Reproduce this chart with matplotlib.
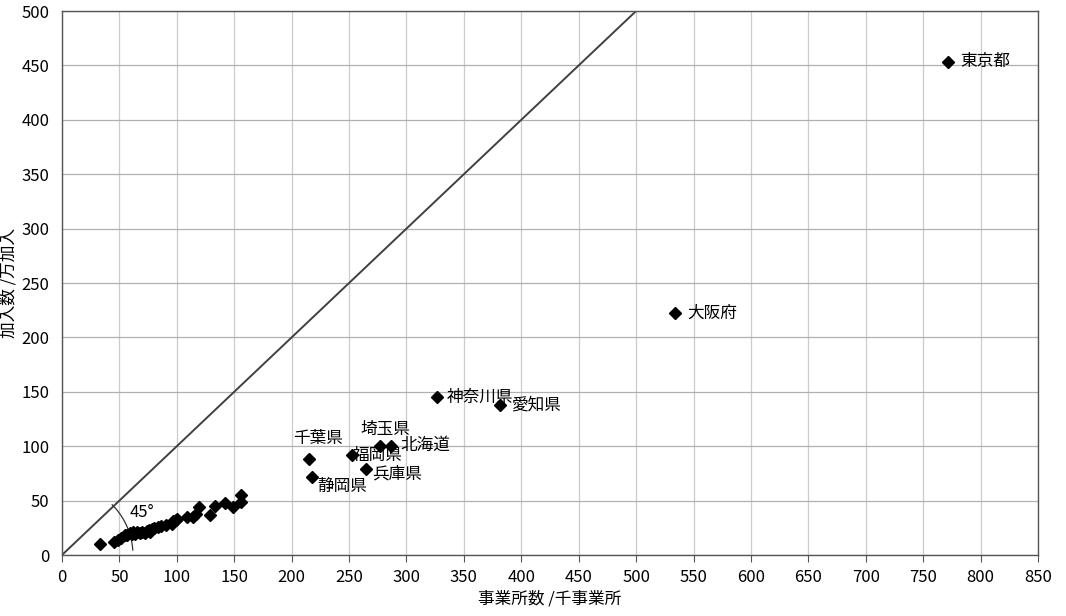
import numpy as np
import matplotlib
matplotlib.use("Agg")
import matplotlib.pyplot as plt

plt.rcParams['font.family'] = ['Noto Sans CJK JP', 'DejaVu Sans']

# Labelled prefectures: establishments (thousand) vs subscribers (10k)
labels = ['東京都', '大阪府', '神奈川県', '愛知県', '埼玉県', '北海道',
          '千葉県', '福岡県', '兵庫県', '静岡県']
lab_x = [771.5, 534, 326.5, 381.5, 277, 286.5, 215, 252.5, 265, 217.5]
lab_y = [453.5, 222.5, 145, 138, 100, 100, 88, 92, 79, 72]
# label offsets in pixels (dx, dy)
lab_off = [(12, 0), (12, 0), (10, 0), (11, 0), (-20, 17), (9, 1),
           (-16, 21), (1, -1), (6, -5), (6, -10)]

# Unlabelled prefectures
oth_x = [33.5, 45.5, 49, 51, 55, 57, 59, 61, 62, 63.5, 65, 67.5, 70, 72, 74,
         75.5, 76.5, 78, 80, 83.5, 86, 91, 95.5, 97, 99, 100, 108.5, 114, 117,
         119, 129, 133, 142, 149, 155.5, 156]
oth_y = [10.5, 11.5, 14, 15.5, 18, 18.5, 20, 19, 21.5, 19.5, 21, 20, 21, 20.5,
         22, 23, 21.5, 24, 25, 26, 26.5, 27.5, 28.5, 31, 32, 33.5, 34.5, 34.5,
         38, 44, 37, 45, 48, 44, 49, 55]

fig = plt.figure(figsize=(10.66, 6.16), dpi=100)
ax = fig.add_axes([62/1066, 1-555/616, (1038-62)/1066, (555-11)/616])

ax.set_xlim(0, 850)
ax.set_ylim(0, 500)
ax.set_xticks(np.arange(0, 851, 50))
ax.set_yticks(np.arange(0, 501, 50))
ax.grid(True, axis='x', color='#cccccc', linewidth=0.9)
ax.grid(True, axis='y', color='#b0b0b0', linewidth=0.9)
ax.set_axisbelow(True)
for s in ax.spines.values():
    s.set_color('#555555')
    s.set_linewidth(1.0)
ax.tick_params(axis='x', direction='out', length=5, color='#555555',
               labelsize=12, pad=5)
ax.tick_params(axis='y', length=0, labelsize=12, pad=9)

# 45 degree line
ax.plot([0, 850], [0, 850], color='#404040', linewidth=1.4, zorder=2)

# arc showing 45°
t = np.radians(np.linspace(4, 45, 50))
ax.plot(61.8*np.cos(t), 65.3*np.sin(t), color='#333333', linewidth=0.9, zorder=2)
ax.text(59, 39, '45°', fontsize=12, va='center', ha='left')

ax.plot(oth_x, oth_y, 'D', color='black', markersize=6, linestyle='none', zorder=3)
ax.plot(lab_x, lab_y, 'D', color='black', markersize=6, linestyle='none', zorder=3)

for name, x, y, (dx, dy) in zip(labels, lab_x, lab_y, lab_off):
    ax.annotate(name, (x, y), xytext=(dx, dy), textcoords='offset pixels',
                fontsize=12, va='center', ha='left', zorder=4)

ax.set_xlabel('事業所数 /千事業所', fontsize=12, labelpad=3)
ax.set_ylabel('加入数 /万加入', fontsize=12)
ax.yaxis.set_label_coords(-44/976, 0.5)

fig.savefig('out.png', dpi=100)
